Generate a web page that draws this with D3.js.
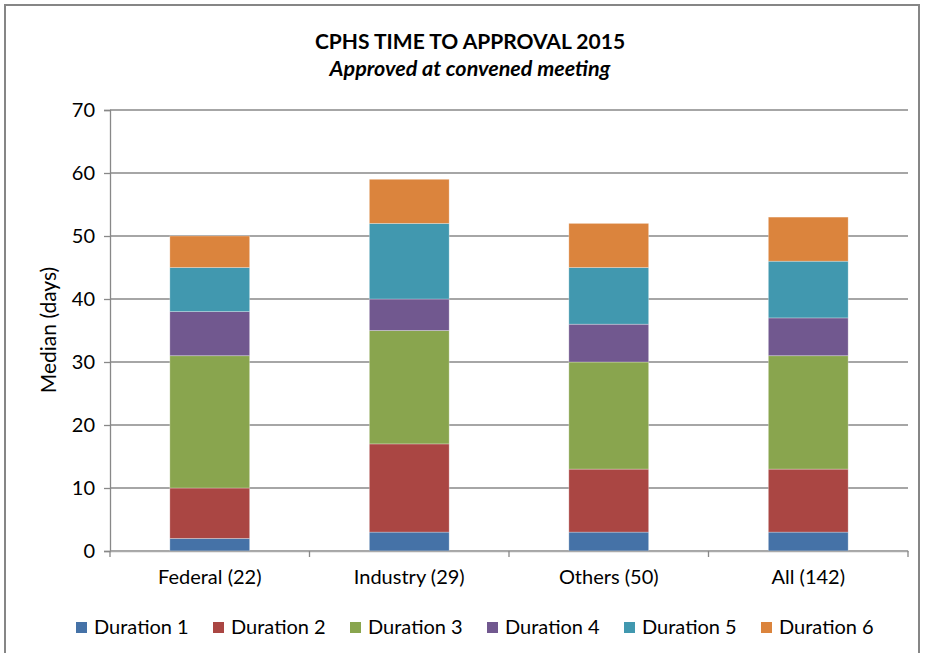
<!DOCTYPE html>
<html><head><meta charset="utf-8">
<script src="https://cdn.jsdelivr.net/npm/d3@7"></script>
<style>body{margin:0;background:#fff}svg{display:block}text{font-family:Lato,"Open Sans",sans-serif;fill:#000}</style>
</head><body><svg id="c" width="925" height="653"></svg>
<script>
const categories = ["Federal (22)", "Industry (29)", "Others (50)", "All (142)"];
const seriesNames = ["Duration 1","Duration 2","Duration 3","Duration 4","Duration 5","Duration 6"];
const duration1 = [2, 3, 3, 3];
const duration2 = [8, 14, 10, 10];
const duration3 = [21, 18, 17, 18];
const duration4 = [7, 5, 6, 6];
const duration5 = [7, 12, 9, 9];
const duration6 = [5, 7, 7, 7];
const colors = ["#4572A7","#AA4643","#89A54E","#71588F","#4198AF","#DB843D"];
const yTicks = [0,10,20,30,40,50,60,70];
const title = "CPHS TIME TO APPROVAL 2015";
const subtitle = "Approved at convened meeting";
const yLabel = "Median (days)";

const allSeries = [duration1,duration2,duration3,duration4,duration5,duration6];
const rows = categories.map((c,i)=>{const o={cat:c}; seriesNames.forEach((s,j)=>o[s]=allSeries[j][i]); return o;});
const stack = d3.stack().keys(seriesNames)(rows);

const svg = d3.select("#c");
const L=110, R=908, T=110, B=551;
svg.append("rect").attr("x",5).attr("y",5).attr("width",914).attr("height",670)
  .attr("fill","#fff").attr("stroke","#868686").attr("stroke-width",2);

const x = d3.scaleBand().domain(categories).range([L,R]).padding(0);
const y = d3.scaleLinear().domain([0,70]).range([B,T]);

// gridlines
svg.append("g").selectAll("line").data(yTicks).join("line")
  .attr("x1",L).attr("x2",R).attr("y1",d=>y(d)).attr("y2",d=>y(d))
  .attr("stroke","#888").attr("stroke-width",1.3);

// y axis
const ya = svg.append("g").attr("transform",`translate(${L},0)`)
  .call(d3.axisLeft(y).tickValues(yTicks).tickSize(6).tickPadding(9));
ya.selectAll("path,line").attr("stroke","#888").attr("stroke-width",1.3);
ya.selectAll("text").style("font-size","20px").style("font-family","Lato,sans-serif").attr("fill","#222");

// bars
const bw = x.bandwidth()*0.4;
svg.append("g").selectAll("g").data(stack).join("g").attr("fill",(d,i)=>colors[i])
  .selectAll("rect").data(d=>d).join("rect")
  .attr("x",d=>x(d.data.cat)+(x.bandwidth()-bw)/2)
  .attr("width",bw)
  .attr("y",d=>y(d[1]))
  .attr("height",d=>y(d[0])-y(d[1]))
  .attr("stroke","#fff").attr("stroke-opacity",0.35).attr("stroke-width",0.8);

// x axis
const xa = svg.append("g").attr("transform",`translate(0,${B})`)
  .call(d3.axisBottom(x).tickSize(0).tickPadding(19));
xa.select("path").attr("stroke","#aaa").attr("stroke-width",1.5);
xa.selectAll("text").style("font-size","20px").style("font-family","Lato,sans-serif").attr("fill","#000");
const bounds = categories.map(c=>x(c)).concat([R]);
xa.selectAll("line.bt").data(bounds).join("line").attr("class","bt")
  .attr("x1",d=>d).attr("x2",d=>d).attr("y1",0).attr("y2",6).attr("stroke","#888").attr("stroke-width",1.3);

// titles
svg.append("text").attr("x",470).attr("y",49).attr("text-anchor","middle")
  .style("font-size","21px").style("font-weight","bold").text(title);
svg.append("text").attr("x",470).attr("y",76).attr("text-anchor","middle")
  .style("font-size","21.5px").style("font-weight","bold").style("font-style","italic").text(subtitle);
svg.append("text").attr("transform","translate(56,330) rotate(-90)").attr("text-anchor","middle")
  .style("font-size","21px").text(yLabel);

// legend
const lg = svg.append("g").selectAll("g").data(seriesNames).join("g")
  .attr("transform",(d,i)=>`translate(${76+i*137},628)`);
lg.append("rect").attr("x",0).attr("y",-6).attr("width",11).attr("height",11).attr("fill",(d,i)=>colors[i]);
lg.append("text").attr("x",18).attr("y",6).style("font-size","20px").text(d=>d);
</script></body></html>
